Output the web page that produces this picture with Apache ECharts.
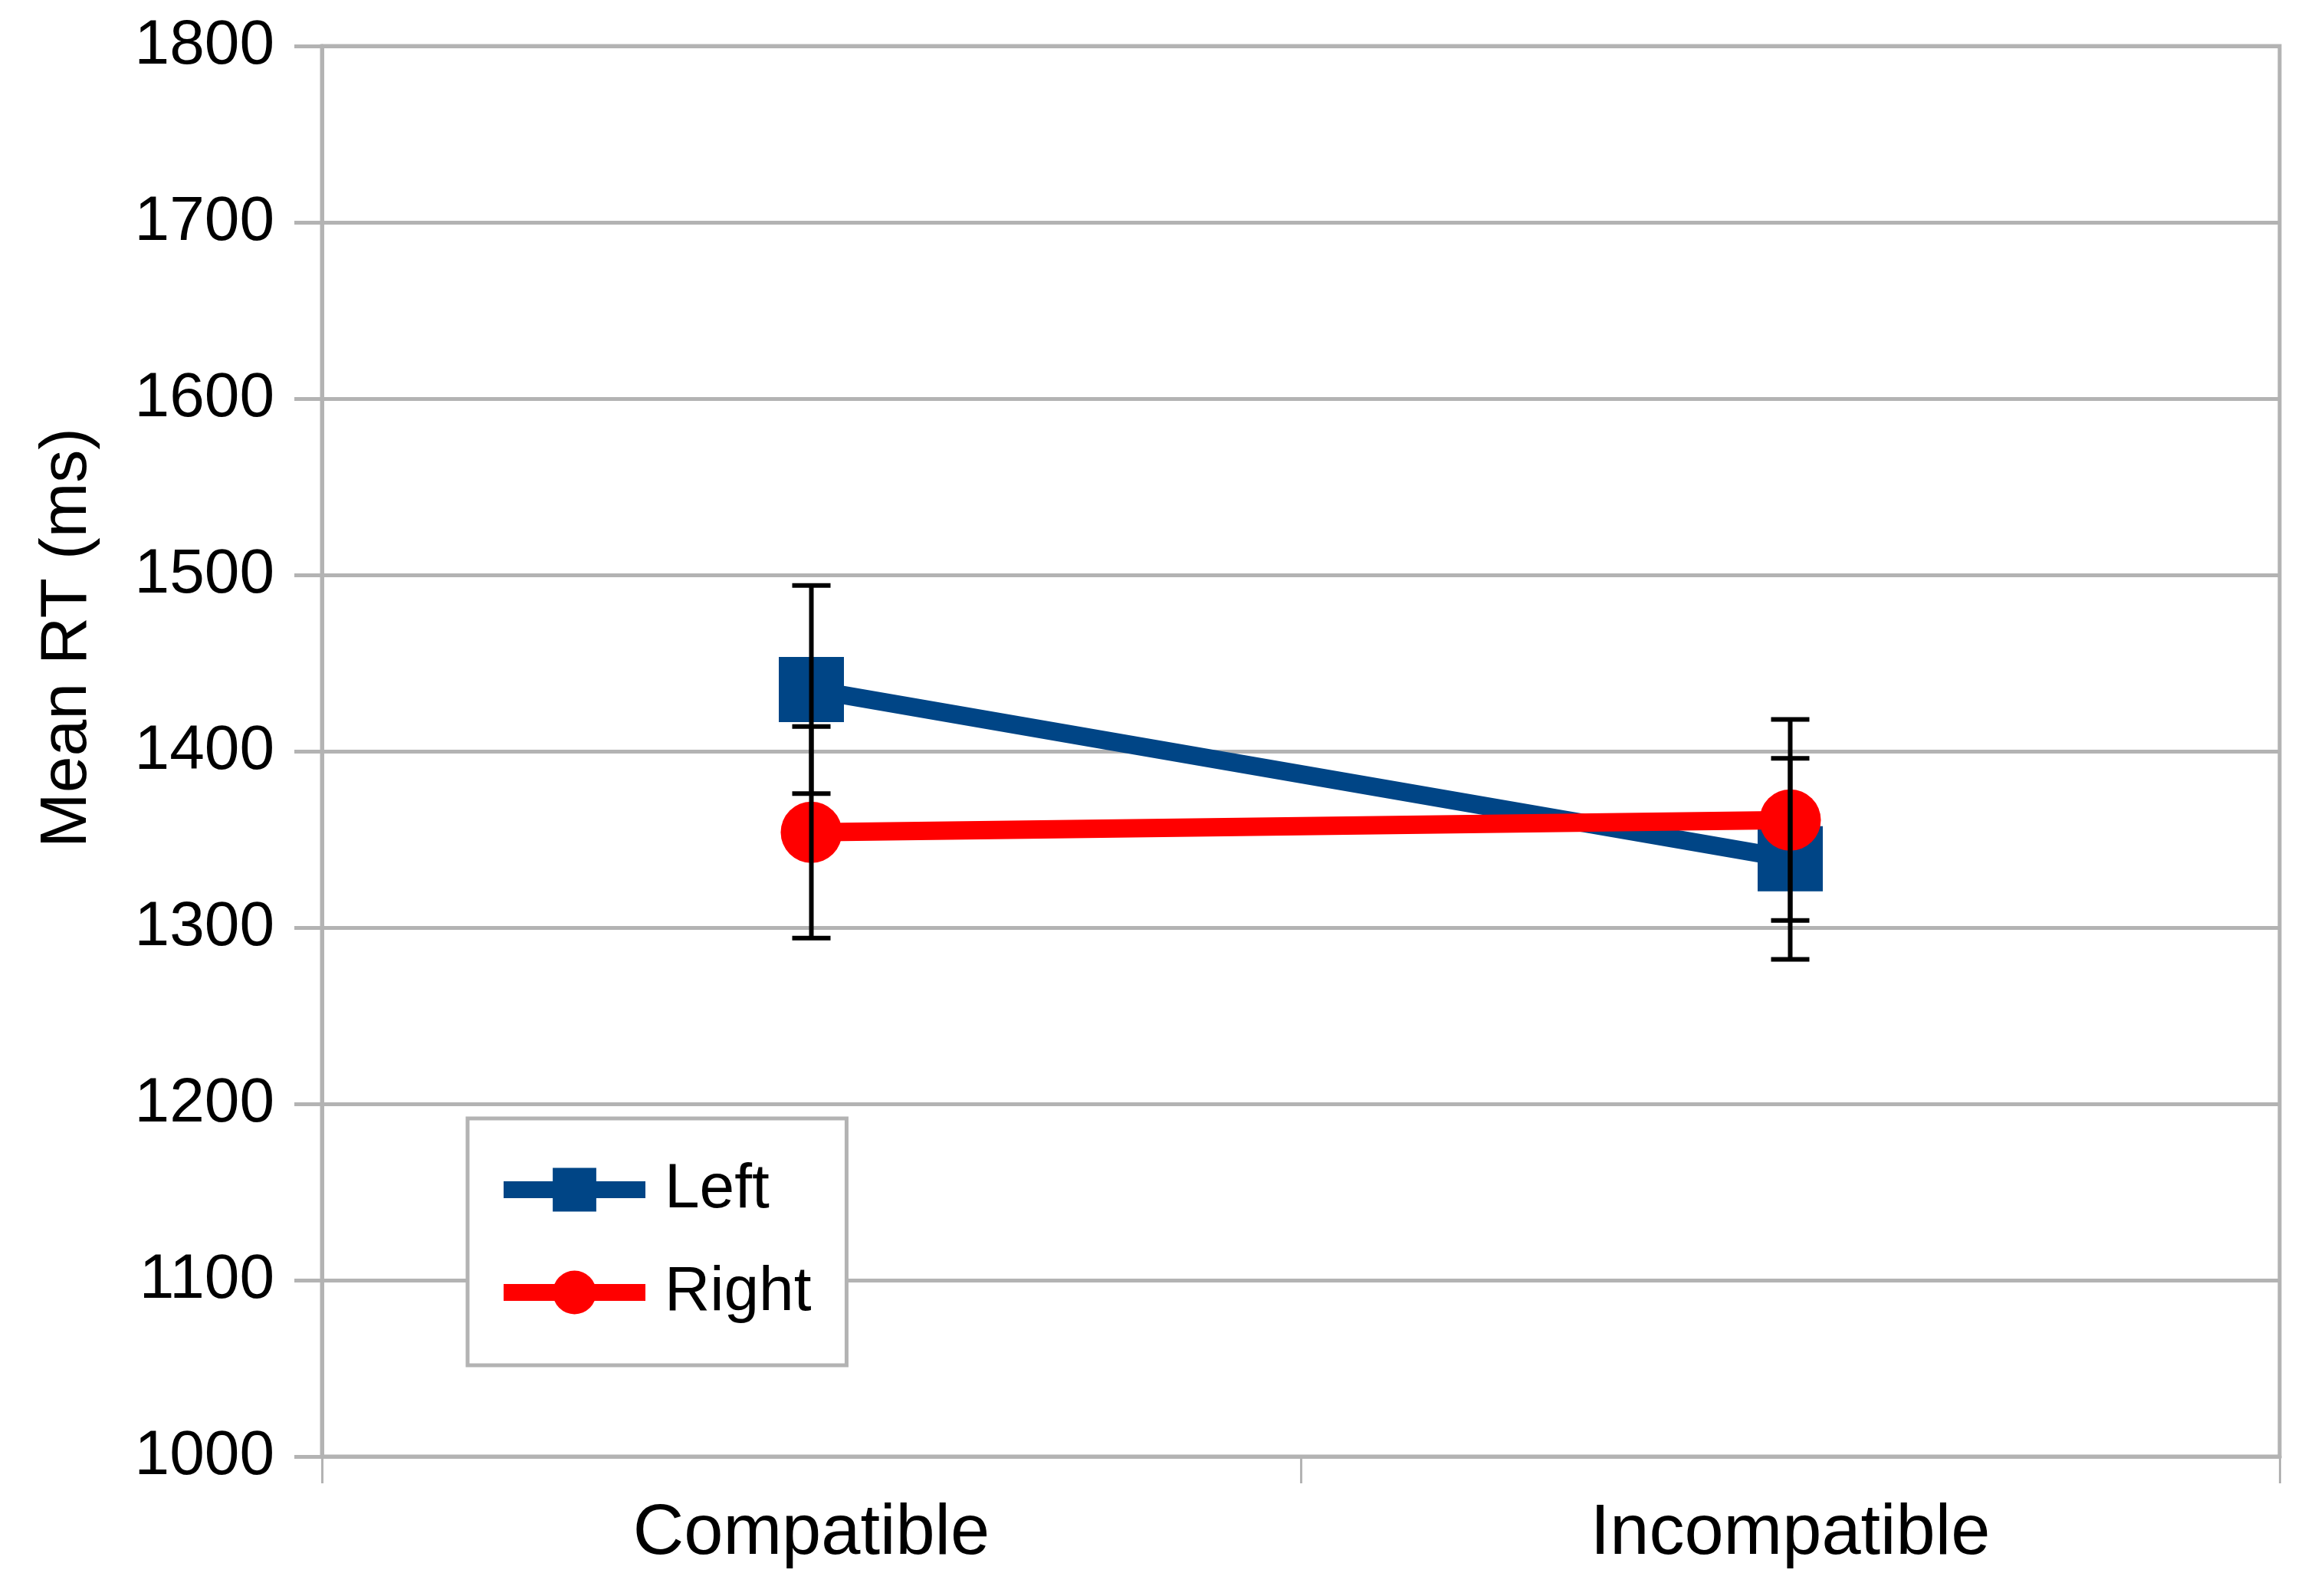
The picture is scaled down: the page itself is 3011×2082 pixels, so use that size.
<!DOCTYPE html>
<html>
<head>
<meta charset="utf-8">
<script src="https://cdn.jsdelivr.net/npm/echarts@6/dist/echarts.min.js"></script>
<style>
html,body{margin:0;padding:0;background:#fff;}
#chart{width:3011px;height:2082px;}
</style>
</head>
<body>
<div id="chart"></div>
<script>
const categories = ['Compatible', 'Incompatible'];
const leftMeans = [1435, 1339];
const leftErr = [59, 57];
const rightMeans = [1354, 1361];
const rightErr = [60, 57];
const yTicks = [1000, 1100, 1200, 1300, 1400, 1500, 1600, 1700, 1800];

const FONT = "'Liberation Sans', Arial, sans-serif";
const GRAY = '#b3b3b3';
const BLUE = '#004586';
const RED = '#ff0000';

function errData(means, errs) {
  return means.map((m, i) => [i, m - errs[i], m + errs[i]]);
}

function errorRender(params, api) {
  const x = api.value(0);
  const lo = api.coord([x, api.value(1)]);
  const hi = api.coord([x, api.value(2)]);
  const cap = 25;
  const style = { stroke: '#000', lineWidth: 6 };
  return {
    type: 'group',
    children: [
      { type: 'line', shape: { x1: lo[0], y1: lo[1], x2: hi[0], y2: hi[1] }, style: style },
      { type: 'line', shape: { x1: lo[0] - cap, y1: lo[1], x2: lo[0] + cap, y2: lo[1] }, style: style },
      { type: 'line', shape: { x1: hi[0] - cap, y1: hi[1], x2: hi[0] + cap, y2: hi[1] }, style: style }
    ]
  };
}

const chart = echarts.init(document.getElementById('chart'), null, { renderer: 'canvas' });
chart.setOption({
  animation: false,
  backgroundColor: '#fff',
  grid: {
    left: 420, right: 37, top: 60, bottom: 182,
    show: true, borderColor: GRAY, borderWidth: 5, backgroundColor: 'transparent'
  },
  xAxis: {
    type: 'category',
    data: categories,
    boundaryGap: true,
    axisLine: { show: true, lineStyle: { color: GRAY, width: 5 } },
    axisTick: { show: true, length: 35, lineStyle: { color: GRAY, width: 3 }, alignWithLabel: false },
    axisLabel: { color: '#000', fontFamily: FONT, fontSize: 92, margin: 56 },
    splitLine: { show: false }
  },
  yAxis: {
    type: 'value',
    min: yTicks[0],
    max: yTicks[yTicks.length - 1],
    interval: 100,
    axisLine: { show: true, lineStyle: { color: GRAY, width: 5 } },
    axisTick: { show: true, length: 36, lineStyle: { color: GRAY, width: 5 } },
    axisLabel: { color: '#000', fontFamily: FONT, fontSize: 82, margin: 62, formatter: v => String(v) },
    splitLine: { show: true, lineStyle: { color: GRAY, width: 5 } }
  },
  legend: {
    orient: 'vertical',
    left: 610,
    top: 1459,
    backgroundColor: '#fff',
    borderColor: GRAY,
    borderWidth: 5,
    borderRadius: 0,
    padding: [52, 46, 54, 36],
    itemWidth: 185,
    itemHeight: 71,
    itemGap: 52,
    lineStyle: { width: 22 },
    textStyle: { color: '#000', fontFamily: FONT, fontSize: 82, padding: [0, 0, 0, 20] },
    data: ['Left', 'Right']
  },
  graphic: [{
    type: 'text',
    x: 88,
    y: 832,
    rotation: Math.PI / 2,
    style: {
      text: 'Mean RT (ms)',
      fill: '#000',
      font: "86px 'Liberation Sans', Arial, sans-serif",
      textAlign: 'center',
      textVerticalAlign: 'middle'
    }
  }],
  series: [
    {
      name: 'Left',
      type: 'line',
      data: leftMeans,
      symbol: 'rect',
      symbolSize: 85,
      lineStyle: { color: BLUE, width: 24 },
      itemStyle: { color: BLUE },
      z: 2
    },
    {
      name: 'Right',
      type: 'line',
      data: rightMeans,
      symbol: 'circle',
      symbolSize: 80,
      lineStyle: { color: RED, width: 24 },
      itemStyle: { color: RED },
      z: 3
    },
    {
      name: 'LeftErr',
      type: 'custom',
      renderItem: errorRender,
      data: errData(leftMeans, leftErr),
      encode: { x: 0, y: [1, 2] },
      z: 10,
      silent: true
    },
    {
      name: 'RightErr',
      type: 'custom',
      renderItem: errorRender,
      data: errData(rightMeans, rightErr),
      encode: { x: 0, y: [1, 2] },
      z: 10,
      silent: true
    }
  ]
});
</script>
</body>
</html>
